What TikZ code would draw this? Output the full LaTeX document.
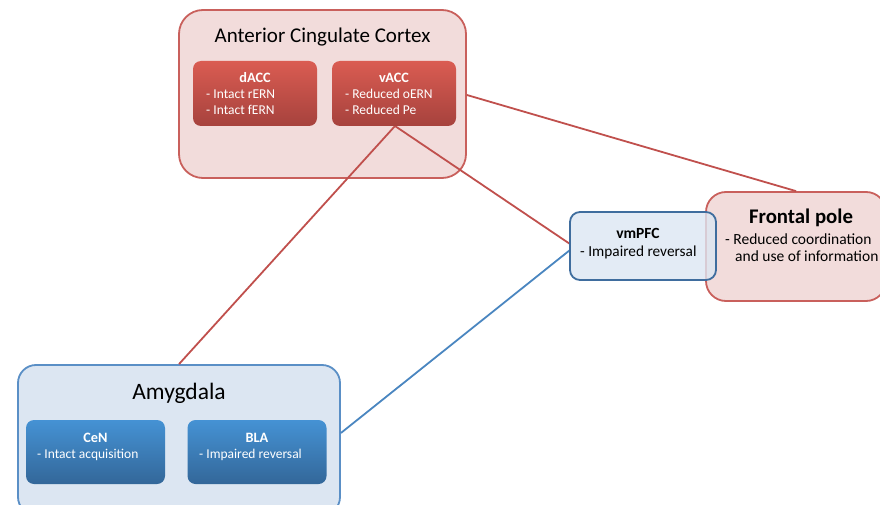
\documentclass[tikz,border=0pt]{standalone}
\usepackage{fontspec}
\setmainfont{Carlito}
\begin{document}
\begin{tikzpicture}[x=1pt,y=-1pt,
  redline/.style={draw=linered,line width=1.8pt},
  blueline/.style={draw=lineblue,line width=1.8pt},
  redcont/.style={draw=bordred,fill=pinkfill,line width=1.8pt,rounded corners=24pt,inner sep=0pt},
  bluecont/.style={draw=bordblue,fill=bluefill,line width=1.8pt,rounded corners=18pt,inner sep=0pt},
  redsub/.style={rounded corners=8pt,top color=subredtop,bottom color=subredbot,draw=none,inner sep=0pt,minimum width=124pt,minimum height=65pt},
  bluesub/.style={rounded corners=8pt,top color=subbluetop,bottom color=subbluebot,draw=none,inner sep=0pt,minimum width=139pt,minimum height=64pt},
  subtxt/.style={text=white,font=\fontsize{13.5}{17}\selectfont,inner sep=0pt,anchor=base west},
  subhead/.style={text=white,font=\fontsize{14.3}{17}\selectfont\bfseries,inner sep=0pt,anchor=base},
  bigtitle/.style={font=\fontsize{21}{24}\selectfont,inner sep=0pt,anchor=base},
  txt/.style={font=\fontsize{15.5}{18}\selectfont,inner sep=0pt,anchor=base west}
]
\definecolor{linered}{HTML}{C0504D}
\definecolor{lineblue}{HTML}{4A86C0}
\definecolor{bordred}{HTML}{C9605C}
\definecolor{pinkfill}{HTML}{F2DCDB}
\definecolor{bordblue}{HTML}{5A8FC6}
\definecolor{bordblue2}{HTML}{3F6D9E}
\definecolor{bluefill}{HTML}{DCE6F2}
\definecolor{subredtop}{HTML}{DA5C52}
\definecolor{subredbot}{HTML}{A6423D}
\definecolor{subbluetop}{HTML}{4592D4}
\definecolor{subbluebot}{HTML}{336799}
\useasboundingbox (0,0) rectangle (880,505);

% containers
\node[redcont,minimum width=287pt,minimum height=168pt] (acc) at (322.5,94) {};
\node[bigtitle] (acctitle) at (322.5,43) {Anterior Cingulate Cortex};
\node[redcont,rounded corners=20pt,minimum width=180pt,minimum height=109pt] (fp) at (796,246.5) {};
\node[bluecont,minimum width=322pt,minimum height=150pt] (amy) at (179,440) {};
\node[bigtitle,font=\fontsize{23.5}{26}\selectfont] (amytitle) at (179,399) {Amygdala};

% connectors
\coordinate (vaccbot) at (395,126);
\draw[redline] (acc.east |- 0,95) -- (fp.north);
\draw[redline] (vaccbot) -- (570,244);
\draw[redline] (vaccbot) -- (amy.north);
\draw[blueline] (amy.east |- 0,433) -- (570,250);

% sub boxes
\node[redsub] (dacc) at (255,93.5) {};
\node[subhead] (dacch) at (255,83) {dACC};
\node[subtxt] (dacc1) at (206,99) {- Intact rERN};
\node[subtxt] (dacc2) at (206,115) {- Intact fERN};
\node[redsub] (vacc) at (394,93.5) {};
\node[subhead] (vacch) at (394,83) {vACC};
\node[subtxt] (vacc1) at (345,99) {- Reduced oERN};
\node[subtxt] (vacc2) at (345,115) {- Reduced Pe};

\node[bluesub] (cen) at (95.5,452) {};
\node[subhead] (cenh) at (95.5,442) {CeN};
\node[subtxt] (cenl) at (37,458) {- Intact acquisition};
\node[bluesub] (bla) at (257,452) {};
\node[subhead] (blah) at (257,442) {BLA};
\node[subtxt] (blal) at (199,458) {- Impaired reversal};

% frontal pole text
\node[font=\fontsize{20.8}{24}\selectfont\bfseries,inner sep=0pt,anchor=base] (fptitle) at (801,223) {Frontal pole};
\node[txt] (fpl1) at (725,244) {- Reduced coordination};
\node[txt] (fpl2) at (735,261) {and use of information};

% vmPFC
\node[draw=bordblue2,fill=bluefill,fill opacity=0.8,line width=1.8pt,rounded corners=10pt,minimum width=146pt,minimum height=68pt,inner sep=0pt] (vmpfc) at (643,246) {};
\node[font=\fontsize{15.5}{18}\selectfont\bfseries,inner sep=0pt,anchor=base] (vmpfch) at (638,238) {vmPFC};
\node[txt,font=\fontsize{15.3}{18}\selectfont] (vmpfcl) at (580,256) {- Impaired reversal};
\end{tikzpicture}
\end{document}
